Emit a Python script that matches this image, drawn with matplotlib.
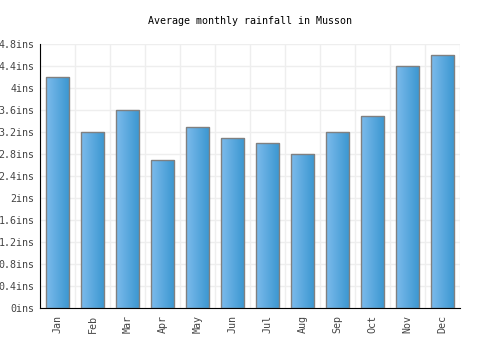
import numpy as np
import matplotlib.pyplot as plt
from matplotlib.colors import LinearSegmentedColormap

# data to plot
months = ['Jan', 'Feb', 'Mar', 'Apr', 'May', 'Jun',
          'Jul', 'Aug', 'Sep', 'Oct', 'Nov', 'Dec']
rainfall = [4.2, 3.2, 3.6, 2.7, 3.3, 3.1, 3.0, 2.8, 3.2, 3.5, 4.4, 4.6]
yticks = [0, 0.4, 0.8, 1.2, 1.6, 2, 2.4, 2.8, 3.2, 3.6, 4, 4.4, 4.8]
ytick_labels = ['0ins', '0.4ins', '0.8ins', '1.2ins', '1.6ins', '2ins', '2.4ins',
                '2.8ins', '3.2ins', '3.6ins', '4ins', '4.4ins', '4.8ins']

plt.rcParams['font.family'] = 'DejaVu Sans Mono'

fig = plt.figure(figsize=(5, 3.5), dpi=100)
ax = fig.add_axes([0.08, 0.12, 0.84, 0.754])
index = np.arange(len(months))

bars = ax.bar(index, rainfall, 0.66, color='none', edgecolor='#808080',
              linewidth=1, zorder=3)

# horizontal gradient inside each bar
cmap = LinearSegmentedColormap.from_list('blue', ['#7cbbec', '#3a96d0'])
grad = np.linspace(0, 1, 64).reshape(1, -1)
for b in bars:
    x0, y0 = b.get_x(), b.get_y()
    im = ax.imshow(grad, cmap=cmap, aspect='auto', zorder=2,
                   extent=(x0, x0 + b.get_width(), y0, y0 + b.get_height()))
    im.set_clip_path(b)

ax.set_xlim(-0.5, len(months) - 0.5)
ax.set_ylim(0, 4.8)
ax.set_yticks(yticks)
ax.set_yticklabels(ytick_labels)
ax.set_xticks(index)
ax.set_xticklabels(months, rotation=90)
ax.set_xticks(np.arange(-0.5, len(months), 1), minor=True)
ax.tick_params(axis='both', which='both', length=0, labelsize=7.2,
               labelcolor='#444444')
ax.tick_params(axis='y', pad=4)
ax.tick_params(axis='x', pad=5)
ax.grid(True, axis='y', color='#eeeeee', linewidth=1, zorder=0)
ax.grid(True, axis='x', which='minor', color='#eeeeee', linewidth=1, zorder=0)
for s in ['top', 'right']:
    ax.spines[s].set_visible(False)
ax.spines['left'].set_color('black')
ax.spines['bottom'].set_color('black')

fig.text(0.5, 0.94, 'Average monthly rainfall in Musson', ha='center',
         va='center', fontsize=7.2, color='black')

plt.savefig('out.png')
